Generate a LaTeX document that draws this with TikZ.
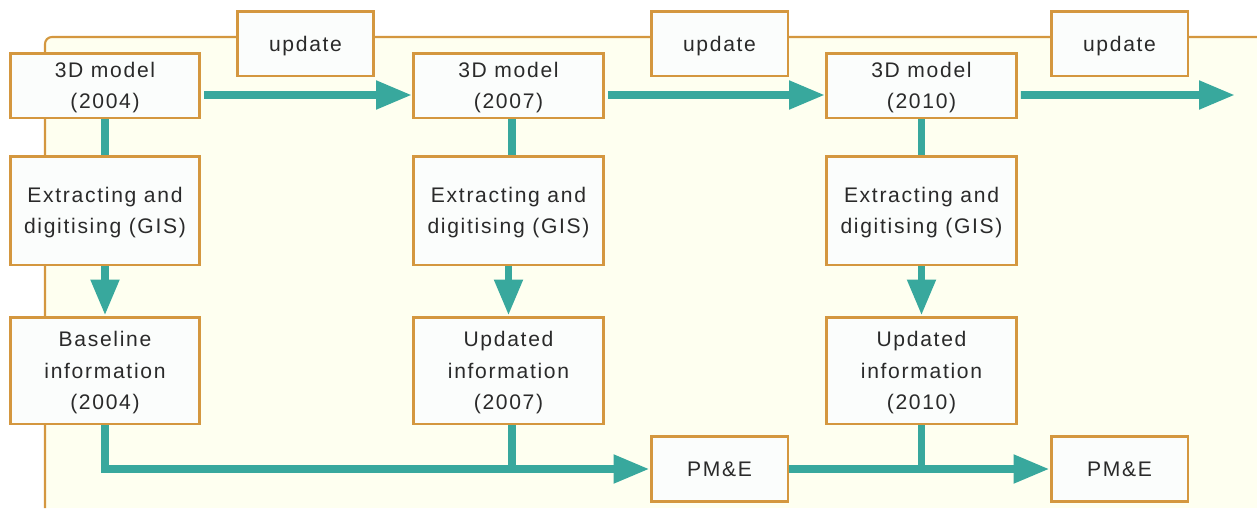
\documentclass[tikz,border=0pt]{standalone}
\usepackage{fontspec}
\setmainfont[LetterSpace=8]{Liberation Sans}
\usetikzlibrary{arrows.meta}
\definecolor{frameorange}{HTML}{D4973F}
\definecolor{flowteal}{HTML}{38A89D}
\definecolor{paleyellow}{HTML}{FEFFF0}
\definecolor{boxwhite}{HTML}{FBFDFC}
\definecolor{inkgray}{HTML}{2A2A2A}
\begin{document}
\begin{tikzpicture}[x=0.02cm, y=-0.02cm,
    box/.style={draw=frameorange, line width=1.7pt, fill=boxwhite, text=inkgray,
      align=center, inner sep=0pt, text depth=-1pt, font=\fontsize{12}{18}\selectfont},
    model/.style={box, minimum width=3.8cm, minimum height=1.3cm},
    extract/.style={box, minimum width=3.8cm, minimum height=2.18cm},
    info/.style={box, minimum width=3.8cm, minimum height=2.14cm},
    small/.style={box, minimum width=2.74cm, minimum height=1.3cm},
    link/.style={draw=flowteal, line width=4.5pt},
    flow/.style={link, -{Triangle[length=0.72cm, width=0.54cm]}}]
  \useasboundingbox (0,0) rectangle (1257,508);
  % background panel
  \fill[paleyellow] (45,37) rectangle (1257,508);
  \draw[frameorange, line width=1.2pt, rounded corners=4pt] (45,508) |- (1257,37);
  % boxes
  \draw
    (105,85.5) node[model] (m1){3D model\\(2004)}
    (508.5,85.5) node[model] (m2){3D model\\(2007)}
    (921.5,85.5) node[model] (m3){3D model\\(2010)}
    (105,210.5) node[extract] (e1){Extracting and\\digitising (GIS)}
    (508.5,210.5) node[extract] (e2){Extracting and\\digitising (GIS)}
    (921.5,210.5) node[extract] (e3){Extracting and\\digitising (GIS)}
    (105,370.5) node[info] (i1){Baseline\\information\\(2004)}
    (508.5,370.5) node[info] (i2){Updated\\information\\(2007)}
    (921.5,370.5) node[info] (i3){Updated\\information\\(2010)}
    (305.5,43.5) node[small] (u1){update}
    (719.5,43.5) node[small] (u2){update}
    (1119.5,43.5) node[small] (u3){update}
    (719.5,469) node[small] (p1){PM\&E}
    (1119.5,469) node[small] (p2){PM\&E};
  \coordinate (next) at (1235,95);
  % connectors
  \begin{scope}
    \draw[flow] ([xshift=0.06cm, yshift=-0.19cm]m1.east) -- ([yshift=-0.19cm]m2.west);
    \draw[flow] ([xshift=0.06cm, yshift=-0.19cm]m2.east) -- ([yshift=-0.19cm]m3.west);
    \draw[flow] ([xshift=0.06cm, yshift=-0.19cm]m3.east) -- (next);
    \draw[link] (m1) -- (e1);
    \draw[link] ([xshift=0.07cm]m2.south) -- ([xshift=0.07cm]e2.north);
    \draw[link] (m3) -- (e3);
    \draw[flow] (e1) -- (i1);
    \draw[flow] (e2) -- (i2);
    \draw[flow] (e3) -- (i3);
    \draw[flow] (i1.south) |- (p1.west);
    \draw[link] ([xshift=0.07cm]i2.south) -- ([xshift=0.07cm]i2.south |- p1.west);
    \draw[flow] (p1.east) -- (p2.west);
    \draw[link] (i3.south) -- (i3.south |- p2.west);
  \end{scope}
\end{tikzpicture}
\end{document}
